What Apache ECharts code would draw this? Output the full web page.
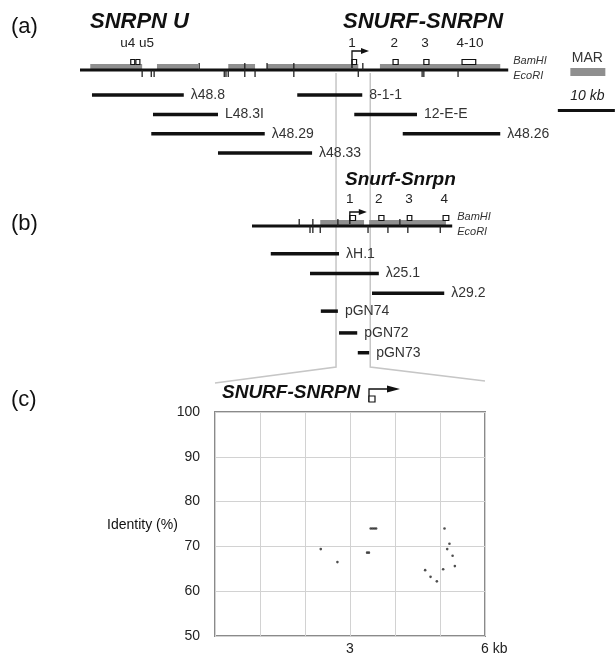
<!DOCTYPE html>
<html>
<head>
<meta charset="utf-8">
<script src="https://cdn.jsdelivr.net/npm/echarts@6/dist/echarts.min.js"></script>
<style>
  html, body { margin: 0; padding: 0; background: #fff; }
  #main { width: 616px; height: 656px; }
</style>
</head>
<body>
<div id="main"></div>
<script>
const FONT = '"Liberation Sans", Arial, Helvetica, sans-serif';

// (a) human SNRPN upstream / SNURF-SNRPN map, positions in kb
const humanBackbone = [[0, 75.1, 0]];
const humanMAR = [[1.8, 10.9], [13.5, 20.7], [26.0, 30.7], [32.8, 48.8], [52.6, 73.7]];
const humanBamHI = [20.9, 28.9, 32.8, 37.5, 49.6];
const humanEcoRI = [10.9, 12.5, 13.0, 25.3, 25.6, 26.0, 28.9, 30.7, 37.5, 48.8, 60.0, 60.3, 66.3];
const humanExons = [[8.9, 9.6], [9.8, 10.5], [47.7, 48.5], [54.9, 55.8], [60.3, 61.2], [67.0, 69.4]];
const humanExonNames = ['u4 u5', '1', '2', '3', '4-10'];
const humanExonNamePos = [10.0, 47.7, 55.1, 60.5, 68.4];
const humanPromoter = [47.7];
const humanClones = ['λ48.8', '8-1-1', 'L48.3I', '12-E-E', 'λ48.29', 'λ48.26', 'λ48.33'];
const humanCloneStart = [2.1, 38.1, 12.8, 48.1, 12.5, 56.6, 24.2];
const humanCloneEnd = [18.2, 49.5, 24.2, 59.1, 32.4, 73.7, 40.7];
const humanCloneRow = [1.3, 1.3, 2.3, 2.3, 3.3, 3.3, 4.3];
const scaleBar = [83.8, 10]; // start, length (kb)
const humanWindow = [44.9, 6];

// (b) mouse Snurf-Snrpn map, positions in kb
const mouseBackbone = [[0, 35.2, 0]];
const mouseMAR = [[12.0, 19.7], [20.6, 34.1]];
const mouseBamHI = [8.3, 10.7, 15.1, 26.0];
const mouseEcoRI = [10.2, 10.7, 12.0, 20.4, 23.9, 27.4, 33.1];
const mouseExons = [[17.2, 18.2], [22.3, 23.2], [27.3, 28.1], [33.6, 34.6]];
const mouseExonNames = ['1', '2', '3', '4'];
const mouseExonNamePos = [17.2, 22.3, 27.6, 33.8];
const mousePromoter = [17.2];
const mouseClones = ['λH.1', 'λ25.1', 'λ29.2', 'pGN74', 'pGN72', 'pGN73'];
const mouseCloneStart = [3.3, 10.2, 21.1, 12.1, 15.3, 18.6];
const mouseCloneEnd = [15.3, 22.3, 33.8, 15.1, 18.5, 20.6];
const mouseCloneRow = [1.4, 2.4, 3.4, 4.3, 5.4, 6.4];

// (c) identity plot
const identityKb = [2.35, 2.72, 3.38, 3.42, 3.46, 3.50, 3.54, 3.58, 4.67, 4.79, 4.93, 5.07, 5.10, 5.21, 5.16, 5.28, 5.33];
const identityPct = [69.4, 66.5, 68.6, 68.6, 74.0, 74.0, 74.0, 74.0, 64.7, 63.2, 62.2, 64.9, 74.0, 70.6, 69.4, 67.9, 65.6];
const xTickLabels = { 3: '3', 6: '6 kb' };

function txt(text, x, y, font, fill, align, vAlign) {
  return { type: 'text', style: { text: text, x: x, y: y, font: font, fill: fill || '#222',
    align: align || 'left', textAlign: align || 'left',
    verticalAlign: vAlign || 'middle', textVerticalAlign: vAlign || 'middle' } };
}

function custom(grid, data, renderItem) {
  return { type: 'custom', xAxisIndex: grid, yAxisIndex: grid, data: data,
    renderItem: renderItem, silent: true, animation: false };
}

// builds all series for one genomic map panel
function mapPanel(grid, p) {
  const out = [];
  // MAR shading
  out.push(custom(grid, p.mar.map(m => [m[0], 0, m[1]]), function (params, api) {
    const a = api.coord([api.value(0), 0]);
    const b = api.coord([api.value(2), 0]);
    return { type: 'rect', shape: { x: a[0], y: a[1] - 6, width: b[0] - a[0], height: 7 },
      style: { fill: '#8f8f8f' } };
  }));
  // backbone
  out.push(custom(grid, p.backbone, function (params, api) {
    const a = api.coord([api.value(0), api.value(2)]);
    const b = api.coord([api.value(1), api.value(2)]);
    return { type: 'group', children: [
      { type: 'line', shape: { x1: a[0], y1: a[1], x2: b[0], y2: b[1] }, style: { stroke: '#111', lineWidth: 3 } },
      txt('BamHI', b[0] + 5, a[1] - 9, 'italic 11px ' + FONT, '#333'),
      txt('EcoRI', b[0] + 5, a[1] + 6, 'italic 11px ' + FONT, '#333')
    ] };
  }));
  // restriction sites: BamHI up, EcoRI down
  const sites = p.bam.map(s => [s, 0, -1]).concat(p.eco.map(s => [s, 0, 1]));
  out.push(custom(grid, sites, function (params, api) {
    const c = api.coord([api.value(0), 0]);
    return { type: 'line', shape: { x1: c[0], y1: c[1], x2: c[0], y2: c[1] + 7 * api.value(2) },
      style: { stroke: '#222', lineWidth: 1.3 } };
  }));
  // exons
  out.push(custom(grid, p.exons.map(e => [e[0], 0, e[1]]), function (params, api) {
    const a = api.coord([api.value(0), 0]);
    const b = api.coord([api.value(2), 0]);
    return { type: 'rect', shape: { x: a[0], y: a[1] - 10.5, width: Math.max(b[0] - a[0], 3.5), height: 5 },
      style: { fill: '#fff', stroke: '#111', lineWidth: 1.2 } };
  }));
  // exon numbers
  out.push(custom(grid, p.exonNamePos.map(x => [x, 0]), function (params, api) {
    const c = api.coord([api.value(0), 0]);
    return txt(p.exonNames[params.dataIndex], c[0], c[1] - 27, '13.5px ' + FONT, '#222', 'center');
  }));
  // promoter arrow
  out.push(custom(grid, p.promoter.map(x => [x, 0]), function (params, api) {
    const c = api.coord([api.value(0), 0]);
    const top = c[1] - p.arrowH;
    return { type: 'group', children: [
      { type: 'polyline', shape: { points: [[c[0], c[1] - 2], [c[0], top], [c[0] + 10, top]] },
        style: { stroke: '#111', lineWidth: 1.3, fill: null } },
      { type: 'polygon', shape: { points: [[c[0] + 9, top - 3], [c[0] + 17, top], [c[0] + 9, top + 3]] },
        style: { fill: '#111' } }
    ] };
  }));
  // clones
  const clones = p.cloneStart.map((s, i) => [s, p.cloneRow[i], p.cloneEnd[i]]);
  out.push(custom(grid, clones, function (params, api) {
    const a = api.coord([api.value(0), api.value(1)]);
    const b = api.coord([api.value(2), api.value(1)]);
    return { type: 'group', children: [
      { type: 'line', shape: { x1: a[0], y1: a[1], x2: b[0], y2: b[1] }, style: { stroke: '#111', lineWidth: 3.5 } },
      txt(p.clones[params.dataIndex], b[0] + 7, a[1], '14px ' + FONT, '#333')
    ] };
  }));
  return out;
}

const seriesA = mapPanel(0, {
  backbone: humanBackbone, mar: humanMAR, bam: humanBamHI, eco: humanEcoRI,
  exons: humanExons, exonNames: humanExonNames, exonNamePos: humanExonNamePos,
  promoter: humanPromoter, arrowH: 19, clones: humanClones,
  cloneStart: humanCloneStart, cloneEnd: humanCloneEnd, cloneRow: humanCloneRow
});
const seriesB = mapPanel(1, {
  backbone: mouseBackbone, mar: mouseMAR, bam: mouseBamHI, eco: mouseEcoRI,
  exons: mouseExons, exonNames: mouseExonNames, exonNamePos: mouseExonNamePos,
  promoter: mousePromoter, arrowH: 14, clones: mouseClones,
  cloneStart: mouseCloneStart, cloneEnd: mouseCloneEnd, cloneRow: mouseCloneRow
});

// scale bar + MAR legend in panel (a)
const scaleSeries = custom(0, [[scaleBar[0], 2.1, scaleBar[0] + scaleBar[1]]], function (params, api) {
  const a = api.coord([api.value(0), api.value(1)]);
  const b = api.coord([api.value(2), api.value(1)]);
  const mid = (a[0] + b[0]) / 2 + 1;
  const base = api.coord([api.value(0), 0]);
  return { type: 'group', children: [
    { type: 'line', shape: { x1: a[0], y1: a[1], x2: b[0], y2: b[1] }, style: { stroke: '#111', lineWidth: 3 } },
    txt('10 kb', mid, a[1] - 14, 'italic 14px ' + FONT, '#222', 'center'),
    { type: 'rect', shape: { x: mid - 17, y: base[1] - 2, width: 35, height: 8 }, style: { fill: '#8f8f8f' } },
    txt('MAR', mid, base[1] - 12, '14px ' + FONT, '#333', 'center')
  ] };
});

const scatterSeries = {
  type: 'scatter', xAxisIndex: 2, yAxisIndex: 2, symbol: 'circle', symbolSize: 2.6,
  itemStyle: { color: '#222' }, silent: true, animation: false,
  data: identityKb.map((x, i) => [x, identityPct[i]])
};

const hidden = { show: false };
const option = {
  animation: false,
  grid: [
    { left: 80, width: 536, top: 12, height: 154.64 },
    { left: 252, width: 364, top: 186.4, height: 178.2 },
    { left: 215, top: 412, width: 270, height: 224, show: true, borderColor: '#8a8a8a', borderWidth: 2 }
  ],
  xAxis: [
    Object.assign({ type: 'value', gridIndex: 0, min: 0, max: 94 }, hidden),
    Object.assign({ type: 'value', gridIndex: 1, min: 0, max: 64 }, hidden),
    { type: 'value', gridIndex: 2, min: 0, max: 6, interval: 1,
      axisLine: { show: false }, axisTick: { show: false },
      splitLine: { lineStyle: { color: '#d2d2d2', width: 1 } },
      axisLabel: { formatter: v => xTickLabels[v] || '', fontSize: 14, color: '#222', fontFamily: FONT,
        margin: 6, align: 'left', padding: [0, 0, 0, -4] } }
  ],
  yAxis: [
    Object.assign({ type: 'value', gridIndex: 0, min: -3, max: 5, inverse: true }, hidden),
    Object.assign({ type: 'value', gridIndex: 1, min: -2, max: 7, inverse: true }, hidden),
    { type: 'value', gridIndex: 2, min: 50, max: 100, interval: 10,
      axisLine: { show: false }, axisTick: { show: false },
      splitLine: { lineStyle: { color: '#d2d2d2', width: 1 } },
      axisLabel: { fontSize: 14, color: '#222', fontFamily: FONT, margin: 15 } }
  ],
  series: seriesA.concat(seriesB, [scaleSeries, scatterSeries])
};

const chart = echarts.init(document.getElementById('main'));
chart.setOption(option);

// zoom guide lines and static texts
const w0 = chart.convertToPixel({ gridIndex: 0 }, [humanWindow[0], 0]);
const w1 = chart.convertToPixel({ gridIndex: 0 }, [humanWindow[0] + humanWindow[1], 0]);
const c0 = chart.convertToPixel({ gridIndex: 2 }, [0, 100]);
const c6 = chart.convertToPixel({ gridIndex: 2 }, [6, 100]);
const guideStyle = { stroke: '#c6c6c6', lineWidth: 1.5, fill: null };

function gtext(text, x, y, font, align) {
  return { type: 'text', x: x, y: y, z: 10,
    style: { text: text, font: font, fill: '#111', textAlign: align || 'left', align: align || 'left',
      textVerticalAlign: 'middle', verticalAlign: 'middle' } };
}

const ax = 369, ay = 389; // promoter glyph of the (c) title
chart.setOption({
  graphic: [
    { type: 'polyline', z: 1, shape: { points: [[w0[0], w0[1] + 3], [w0[0], c0[1] - 45], [c0[0], c0[1] - 29]] }, style: guideStyle },
    { type: 'polyline', z: 1, shape: { points: [[w1[0], w1[1] + 3], [w1[0], c0[1] - 45], [c6[0], c6[1] - 31]] }, style: guideStyle },
    gtext('(a)', 11, 27, '22px ' + FONT),
    gtext('(b)', 11, 224, '22px ' + FONT),
    gtext('(c)', 11, 400, '22px ' + FONT),
    gtext('SNRPN U', 90, 22, 'italic bold 22px ' + FONT),
    gtext('SNURF-SNRPN', 343, 22, 'italic bold 22px ' + FONT),
    gtext('Snurf-Snrpn', 345, 180, 'italic bold 19px ' + FONT),
    gtext('SNURF-SNRPN', 222, 393, 'italic bold 19px ' + FONT),
    gtext('Identity (%)', 107, 525, '14px ' + FONT),
    { type: 'polyline', z: 10, shape: { points: [[ax, ay + 13], [ax, ay], [ax + 20, ay]] }, style: { stroke: '#111', lineWidth: 1.3, fill: null } },
    { type: 'polygon', z: 10, shape: { points: [[ax + 18, ay - 3.5], [ax + 31, ay], [ax + 18, ay + 3.5]] }, style: { fill: '#111' } },
    { type: 'rect', z: 10, shape: { x: ax, y: ay + 7, width: 6, height: 6 }, style: { fill: '#fff', stroke: '#111', lineWidth: 1.2 } }
  ]
});
</script>
</body>
</html>
